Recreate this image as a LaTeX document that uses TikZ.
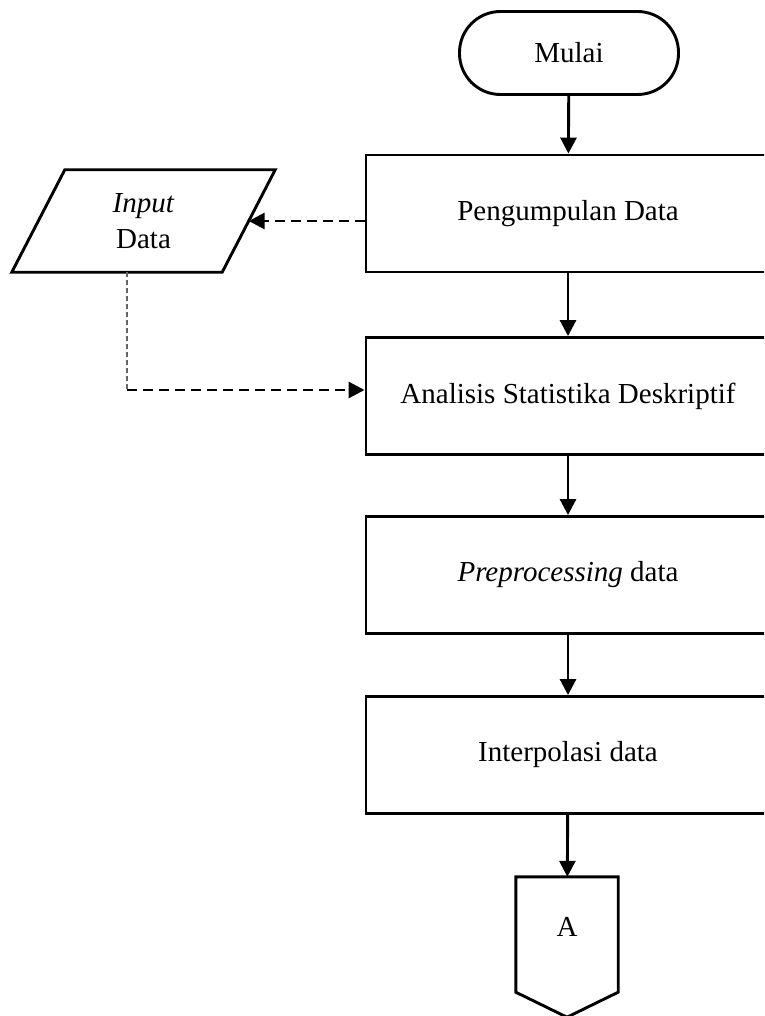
\documentclass[tikz,border=0pt]{standalone}
\usepackage{fontspec}
\setmainfont{Liberation Serif}
\usetikzlibrary{arrows.meta,calc}

\begin{document}
\begin{tikzpicture}[x=1pt,y=-1pt,
  every node/.style={font=\fontsize{29}{36}\selectfont},
  proc/.style={draw, line width=2.9pt, minimum width=404pt, minimum height=117pt, inner sep=0pt},
  term/.style={draw, line width=2.9pt, rounded corners=41pt, minimum width=219pt, minimum height=83pt, inner sep=0pt},
  flow/.style={line width=2.9pt, -{Triangle[length=16pt,width=16pt]}},
  dflow/.style={flow, dash pattern=on 10pt off 6pt},
  guide/.style={line width=1.4pt, draw=black!60, dash pattern=on 5pt off 3pt},
  outline/.style={line width=2.9pt, line join=miter},
]
\useasboundingbox (0,0) rectangle (764,1016);
\clip (0,0) rectangle (764,1016);

% main column
\node[term] (start) at (569,53) {Mulai};
\node[proc] (b1) at (568,213.5) {Pengumpulan Data};
\node[proc] (b2) at (568,396) {Analisis Statistika Deskriptif};
\node[proc] (b3) at (568,575) {\textit{Preprocessing} data};
\node[proc] (b4) at (568,755) {Interpolasi data};

% off-page connector
\node[minimum width=102pt, minimum height=115pt, inner sep=0pt,
      text height=19.2pt, text depth=15pt] (off) at (567,934.5) {A};
\draw[outline] (off.north west) -- (off.north east) -- (off.south east)
  -- ($(off.south)+(0,25)$) -- (off.south west) -- cycle;

% data input (parallelogram)
\node[minimum width=210pt, minimum height=102pt, inner sep=0pt, align=center] (inp)
  at (143.5,221) {\textit{Input}\\Data};
\draw[outline] ($(inp.north west)+(26.5,0)$) -- ($(inp.north east)+(26.5,0)$)
  -- ($(inp.south east)+(-26.5,0)$) -- ($(inp.south west)+(-26.5,0)$) -- cycle;

% connectors
\draw[flow] (start) -- (b1);
\draw[flow] (b1) -- (b2);
\draw[flow] (b2) -- (b3);
\draw[flow] (b3) -- (b4);
\draw[flow] (b4) -- (off);

\draw[dflow] (inp.east -| b1.west) -- (inp.east);
\coordinate (bend) at (127,390);
\draw[guide] (inp.south -| bend) -- (bend);
\draw[dflow] (bend) -- (bend -| b2.west);
\end{tikzpicture}
\end{document}
